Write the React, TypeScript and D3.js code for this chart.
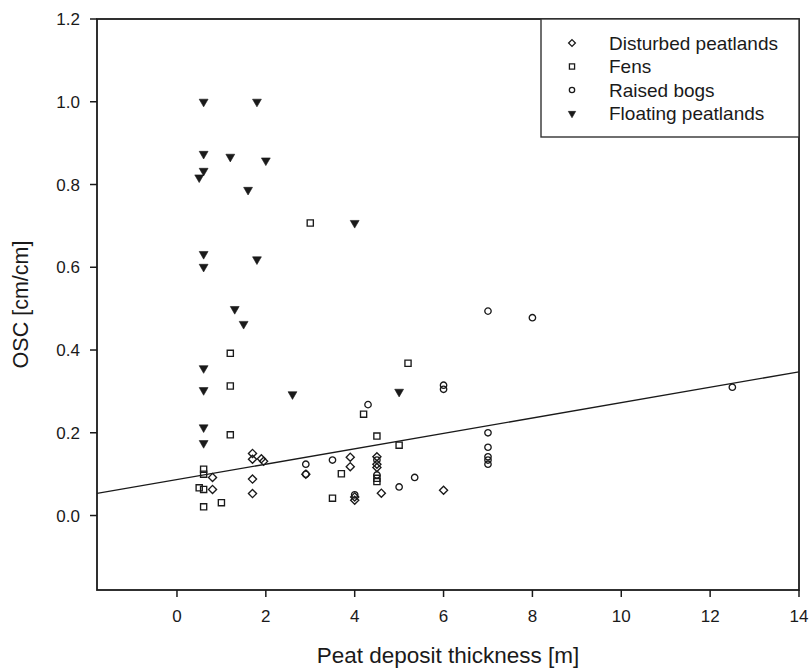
import React, { useEffect, useRef } from 'react';
import * as d3 from 'd3';

// [thickness (m), OSC (cm/cm)]
const disturbed: [number, number][] = [
  [0.8, 0.092], [0.8, 0.063], [1.7, 0.150], [1.7, 0.136], [1.9, 0.137], [1.95, 0.131],
  [1.7, 0.088], [1.7, 0.053], [2.9, 0.100], [3.9, 0.141], [3.9, 0.118], [4.0, 0.045],
  [4.0, 0.037], [4.5, 0.142], [4.5, 0.124], [4.5, 0.116], [4.6, 0.054], [6.0, 0.061]
];

const fens: [number, number][] = [
  [0.6, 0.112], [0.6, 0.100], [0.5, 0.067], [0.6, 0.063], [0.6, 0.021], [1.0, 0.031],
  [1.2, 0.392], [1.2, 0.313], [1.2, 0.195], [3.0, 0.707], [3.5, 0.042], [3.7, 0.101],
  [4.2, 0.245], [4.5, 0.192], [4.5, 0.090], [4.5, 0.082], [5.0, 0.170], [5.2, 0.368]
];

const raisedBogs: [number, number][] = [
  [2.9, 0.124], [2.9, 0.100], [3.5, 0.134], [4.0, 0.050], [4.3, 0.268], [4.5, 0.134],
  [4.5, 0.098], [5.0, 0.069], [5.35, 0.092], [6.0, 0.315], [6.0, 0.305], [7.0, 0.494],
  [7.0, 0.200], [7.0, 0.165], [7.0, 0.142], [7.0, 0.134], [7.0, 0.124], [8.0, 0.478],
  [12.5, 0.310]
];

const floating: [number, number][] = [
  [0.6, 1.0], [1.8, 1.0], [0.6, 0.874], [1.2, 0.867], [2.0, 0.858], [0.6, 0.833],
  [0.5, 0.817], [1.6, 0.787], [0.6, 0.632], [0.6, 0.601], [1.8, 0.619], [4.0, 0.707],
  [1.3, 0.499], [1.5, 0.463], [0.6, 0.356], [0.6, 0.303], [0.6, 0.213], [0.6, 0.175],
  [2.6, 0.293], [5.0, 0.299]
];

const seriesNames = ['Disturbed peatlands', 'Fens', 'Raised bogs', 'Floating peatlands'];
const xTicks = [0, 2, 4, 6, 8, 10, 12, 14];
const yTicks = [0, 0.2, 0.4, 0.6, 0.8, 1.0, 1.2];
const xDomain = [-1.8, 14];
const yDomain = [-0.18, 1.2];

// linear fit drawn in the figure
const fitIntercept = 0.0868;
const fitSlope = 0.0186;

const App = () => {
  const svgRef = useRef<SVGSVGElement>(null);

  useEffect(() => {
    document.body.style.margin = '0';

    const width = 810;
    const height = 670;
    const margin = { top: 19, right: 11, bottom: 80, left: 97 };
    const font = '"Liberation Sans", Arial, sans-serif';
    const ink = '#1a1a1a';

    const svg = d3.select(svgRef.current)
      .attr('width', width)
      .attr('height', height)
      .style('background', '#fff')
      .style('display', 'block');

    svg.selectAll('*').remove();

    const x = d3.scaleLinear().domain(xDomain).range([margin.left, width - margin.right]);
    const y = d3.scaleLinear().domain(yDomain).range([height - margin.bottom, margin.top]);

    const x0 = margin.left;
    const x1 = width - margin.right;
    const yTop = margin.top;
    const yBot = height - margin.bottom;

    // frame
    svg.append('rect')
      .attr('x', x0)
      .attr('y', yTop)
      .attr('width', x1 - x0)
      .attr('height', yBot - yTop)
      .attr('fill', 'none')
      .attr('stroke', ink)
      .attr('stroke-width', 1.8);

    // x ticks
    const xg = svg.append('g');
    xg.selectAll('line')
      .data(xTicks)
      .enter()
      .append('line')
      .attr('x1', d => x(d))
      .attr('x2', d => x(d))
      .attr('y1', yBot)
      .attr('y2', yBot + 7)
      .attr('stroke', ink)
      .attr('stroke-width', 1.5);
    xg.selectAll('text')
      .data(xTicks)
      .enter()
      .append('text')
      .attr('x', d => x(d))
      .attr('y', yBot + 32)
      .attr('text-anchor', 'middle')
      .attr('font-family', font)
      .attr('font-size', 17)
      .attr('fill', ink)
      .text(d => d3.format('d')(d));

    // y ticks
    const yg = svg.append('g');
    yg.selectAll('line')
      .data(yTicks)
      .enter()
      .append('line')
      .attr('x1', x0 - 7)
      .attr('x2', x0)
      .attr('y1', d => y(d))
      .attr('y2', d => y(d))
      .attr('stroke', ink)
      .attr('stroke-width', 1.5);
    yg.selectAll('text')
      .data(yTicks)
      .enter()
      .append('text')
      .attr('x', x0 - 17)
      .attr('y', d => y(d))
      .attr('dy', '0.36em')
      .attr('text-anchor', 'end')
      .attr('font-family', font)
      .attr('font-size', 17)
      .attr('fill', ink)
      .text(d => d3.format('.1f')(d));

    // axis titles
    svg.append('text')
      .attr('x', (x0 + x1) / 2)
      .attr('y', 663)
      .attr('text-anchor', 'middle')
      .attr('font-family', font)
      .attr('font-size', 22.5)
      .attr('fill', ink)
      .text('Peat deposit thickness [m]');

    svg.append('text')
      .attr('transform', `translate(28, ${(yTop + yBot) / 2}) rotate(-90)`)
      .attr('text-anchor', 'middle')
      .attr('font-family', font)
      .attr('font-size', 21.5)
      .attr('fill', ink)
      .text('OSC [cm/cm]');

    // plot area clip for the fit line
    svg.append('clipPath')
      .attr('id', 'plot-clip')
      .append('rect')
      .attr('x', x0)
      .attr('y', yTop)
      .attr('width', x1 - x0)
      .attr('height', yBot - yTop);

    const fit = d3.line<number>()
      .x(d => x(d))
      .y(d => y(fitIntercept + fitSlope * d));

    svg.append('path')
      .attr('d', fit(xDomain))
      .attr('clip-path', 'url(#plot-clip)')
      .attr('fill', 'none')
      .attr('stroke', ink)
      .attr('stroke-width', 1.3);

    // markers
    const symbols = [
      { type: d3.symbolDiamond2, size: 42, fill: 'none', rotate: 0 },
      { type: d3.symbolSquare, size: 38, fill: 'none', rotate: 0 },
      { type: d3.symbolCircle, size: 32, fill: 'none', rotate: 0 },
      { type: d3.symbolTriangle, size: 34, fill: ink, rotate: 180 }
    ];
    const series = [disturbed, fens, raisedBogs, floating];

    series.forEach((pts, i) => {
      const s = symbols[i];
      const path = d3.symbol().type(s.type).size(s.size)();
      svg.append('g')
        .selectAll('path')
        .data(pts)
        .enter()
        .append('path')
        .attr('d', path)
        .attr('transform', d => `translate(${x(d[0])}, ${y(d[1])}) rotate(${s.rotate})`)
        .attr('fill', s.fill)
        .attr('stroke', ink)
        .attr('stroke-width', s.fill === 'none' ? 1.35 : 0.6);
    });

    // legend
    const legendX = 541;
    const legend = svg.append('g');
    legend.append('rect')
      .attr('x', legendX)
      .attr('y', yTop)
      .attr('width', x1 - legendX)
      .attr('height', 118)
      .attr('fill', '#fff')
      .attr('stroke', '#333')
      .attr('stroke-width', 1.4);

    const rows = legend.selectAll('.legend')
      .data(seriesNames)
      .enter()
      .append('g')
      .attr('class', 'legend')
      .attr('transform', (d, i) => `translate(${legendX}, ${yTop + 24 + i * 23.5})`);

    rows.append('path')
      .attr('d', (d, i) => d3.symbol().type(symbols[i].type).size(symbols[i].size * 0.7)())
      .attr('transform', (d, i) => `translate(31, 0) rotate(${symbols[i].rotate})`)
      .attr('fill', (d, i) => symbols[i].fill)
      .attr('stroke', ink)
      .attr('stroke-width', (d, i) => (symbols[i].fill === 'none' ? 1.3 : 0.6));

    rows.append('text')
      .attr('x', 68)
      .attr('dy', '0.36em')
      .attr('font-family', font)
      .attr('font-size', 19)
      .attr('fill', ink)
      .text(d => d);
  }, []);

  return <svg ref={svgRef}></svg>;
};

export default App;
